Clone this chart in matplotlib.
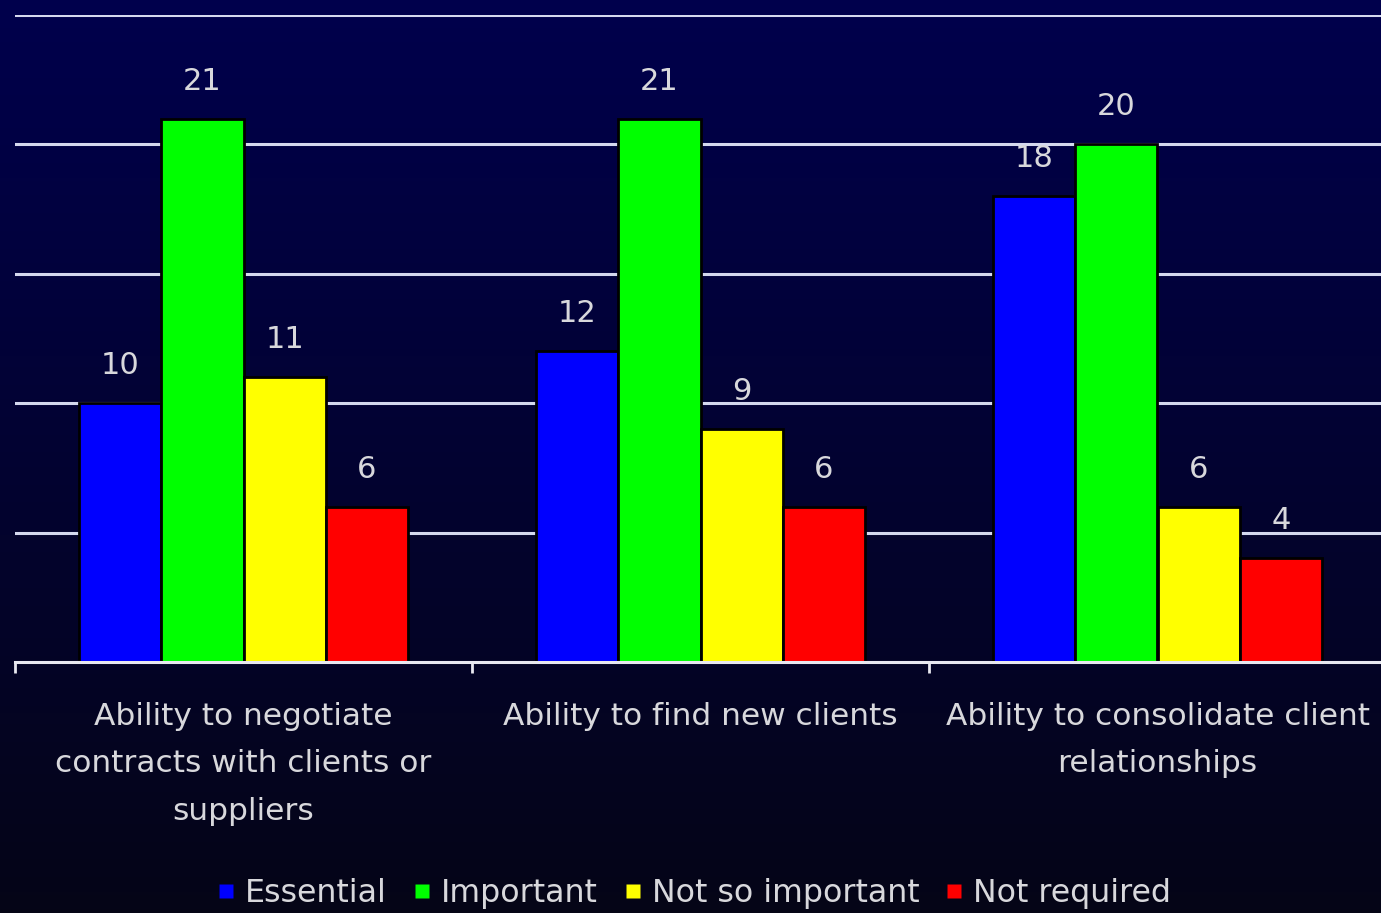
import numpy as np
import matplotlib
matplotlib.use("Agg")
import matplotlib.pyplot as plt
from matplotlib.lines import Line2D

plt.rcParams['font.family'] = ['DejaVu Sans']

categories = ["Ability to negotiate\ncontracts with clients or\nsuppliers",
              "Ability to find new clients",
              "Ability to consolidate client\nrelationships"]
series = ["Essential", "Important", "Not so important", "Not required"]
essential = [10, 12, 18]
important = [21, 21, 20]
not_so_important = [11, 9, 6]
not_required = [6, 6, 4]
values = [essential, important, not_so_important, not_required]
colors = ["#0000ff", "#00ff00", "#ffff00", "#ff0000"]
text_col = "#d8d8dc"

W, H = 1381, 913
fig = plt.figure(figsize=(W / 100, H / 100), dpi=100)

# background gradient: navy at top, near black at bottom
bg = fig.add_axes([0, 0, 1, 1], zorder=-10)
top = np.array([0.0, 0.0, 0.30])
bot = np.array([0.02, 0.02, 0.09])
t = np.linspace(0, 1, 256)[:, None]
grad = (top * (1 - t) + bot * t)[:, None, :]
bg.imshow(grad, aspect="auto", extent=[0, 1, 0, 1])
bg.axis("off")

ax = fig.add_axes([15 / W, (H - 662) / H, 1371 / W, 647 / H])
ax.set_facecolor("none")

x = np.arange(len(categories))
width = 0.18
for i, (vals, col) in enumerate(zip(values, colors)):
    pos = x + (i - 1.5) * width
    bars = ax.bar(pos, vals, width, color=col, edgecolor="black",
                  linewidth=2, zorder=3, label=series[i])
    for b, v in zip(bars, vals):
        ax.annotate(str(v), (b.get_x() + b.get_width() / 2, v),
                    xytext=(0, 27), textcoords="offset points",
                    ha="center", va="center", fontsize=22,
                    color=text_col, zorder=4)

ax.set_ylim(0, 25)
ax.set_xlim(-0.5, 2.5)
ax.set_yticks([5, 10, 15, 20, 25])
ax.yaxis.grid(True, color="#d4d8ee", linewidth=2.2, zorder=1)
ax.set_axisbelow(True)
ax.tick_params(axis="y", left=False, labelleft=False)

for s in ["left", "right", "top"]:
    ax.spines[s].set_visible(False)
ax.spines["bottom"].set_color("#e8e8f0")
ax.spines["bottom"].set_linewidth(2.2)
ax.spines["bottom"].set_zorder(5)

ax.set_xticks([-0.5, 0.5, 1.5, 2.5])
ax.set_xticklabels([])
ax.tick_params(axis="x", which="major", direction="out", length=8,
               width=2, color="#e8e8f0")
ax.set_xticks(x, minor=True)
ax.set_xticklabels(categories, minor=True, fontsize=22.5, color=text_col,
                   linespacing=1.79)
ax.tick_params(axis="x", which="minor", length=0, pad=29)

handles = [Line2D([], [], marker="s", linestyle="none", markersize=10,
                  markerfacecolor=c, markeredgecolor="none") for c in colors]
fig.legend(handles, series, loc="center", bbox_to_anchor=(0.503, 0.021),
           ncol=4, frameon=False, fontsize=22.8, labelcolor=text_col,
           handlelength=0.5, handletextpad=0.35, columnspacing=0.85)

fig.savefig("out.png", dpi=100)
